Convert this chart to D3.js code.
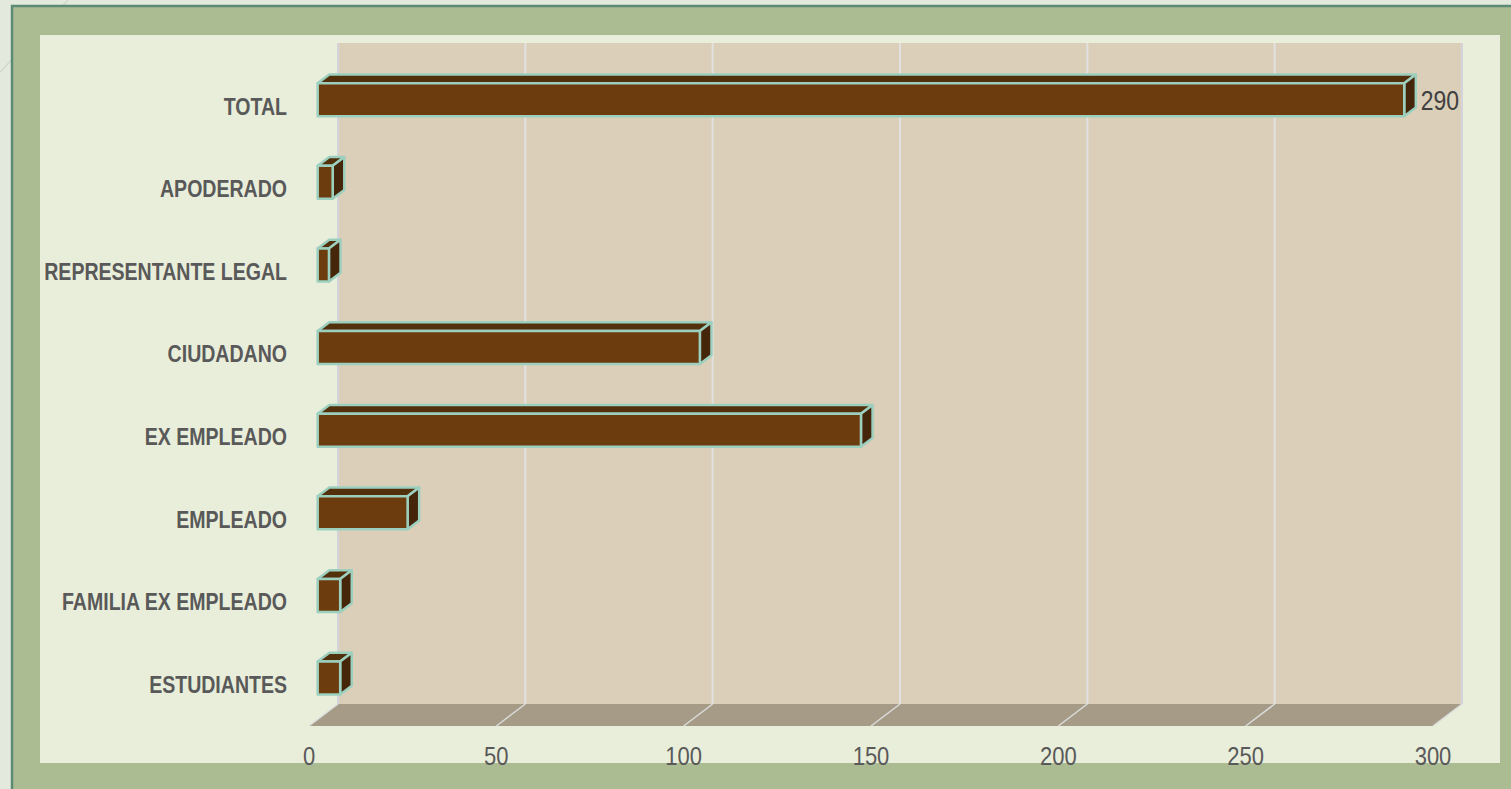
<!DOCTYPE html>
<html>
<head>
<meta charset="utf-8">
<script src="https://cdn.jsdelivr.net/npm/d3@7"></script>
<style>
  html, body { margin: 0; padding: 0; background: #e4e9de; overflow: hidden; }
  svg { display: block; }
</style>
</head>
<body>
<svg id="chart" width="1511" height="789"></svg>
<script>
// ---- data ----
const categories = ["TOTAL", "APODERADO", "REPRESENTANTE LEGAL", "CIUDADANO", "EX EMPLEADO", "EMPLEADO", "FAMILIA EX EMPLEADO", "ESTUDIANTES"];
const values = [290, 4, 3, 102, 145, 24, 6, 6];
const showLabel = [true, false, false, false, false, false, false, false];
const tickValues = [0, 50, 100, 150, 200, 250, 300];

// ---- layout ----
const svg = d3.select("#chart");
const W = 1511, H = 789;
const frontX0 = 309, frontTop = 65, frontBottom = 726;
const depthDX = 29, depthDY = -22;
const z0 = 0.3, z1 = 0.7;
const FONT = "'Liberation Sans', Arial, sans-serif";

const x = d3.scaleLinear().domain([0, 300]).range([0, 1124]);
const y = d3.scaleBand().domain(categories).range([frontTop, frontBottom]).paddingInner(0.6).paddingOuter(0.3);

function P(v, yy, z) { return [frontX0 + x(v) + z * depthDX, yy + z * depthDY]; }
const pts = a => a.map(p => p.join(",")).join(" ");

// background decorations
svg.append("line").attr("x1", 0).attr("y1", 72).attr("x2", 68).attr("y2", 0)
  .attr("stroke", "#cdd4c6").attr("stroke-width", 1.2);

// green frame
svg.append("rect").attr("x", 12).attr("y", 6).attr("width", W + 20).attr("height", H + 20)
  .attr("fill", "#abbb92").attr("stroke", "#5b8c73").attr("stroke-width", 2.5);
// inner panel
svg.append("rect").attr("x", 40).attr("y", 35).attr("width", 1460).attr("height", 728)
  .attr("fill", "#e9eedb");

// back wall
const wallTL = P(0, frontTop, 1), wallBR = P(300, frontBottom, 1);
svg.append("rect").attr("x", wallTL[0]).attr("y", wallTL[1])
  .attr("width", wallBR[0] - wallTL[0]).attr("height", wallBR[1] - wallTL[1])
  .attr("fill", "#dbcfb9");

// floor
svg.append("polygon")
  .attr("points", pts([P(0, frontBottom, 0), P(300, frontBottom, 0), P(300, frontBottom, 1), P(0, frontBottom, 1)]))
  .attr("fill", "#a59b87");

// gridlines (wall + floor)
const grid = svg.append("g");
tickValues.forEach(v => {
  const a = P(v, frontTop, 1), b = P(v, frontBottom, 1), c = P(v, frontBottom, 0);
  const col = (v === 0 || v === 300) ? "#d3d3dc" : "#e1e1e1";
  grid.append("line").attr("x1", a[0]).attr("y1", a[1]).attr("x2", b[0]).attr("y2", b[1])
    .attr("stroke", col).attr("stroke-width", 2);
  grid.append("line").attr("x1", b[0]).attr("y1", b[1]).attr("x2", c[0]).attr("y2", c[1])
    .attr("stroke", "#dcdcdc").attr("stroke-width", 1.5);
});

// bars
const bars = svg.append("g");
categories.forEach((cat, i) => {
  const v = values[i];
  const t = y(cat), b = y(cat) + y.bandwidth();
  const g = bars.append("g").attr("stroke", "#9ccfbe").attr("stroke-width", 2.5).attr("stroke-linejoin", "round");
  // top face
  g.append("polygon").attr("points", pts([P(0, t, z0), P(v, t, z0), P(v, t, z1), P(0, t, z1)]))
    .attr("fill", "#52300b");
  // right side
  g.append("polygon").attr("points", pts([P(v, t, z0), P(v, t, z1), P(v, b, z1), P(v, b, z0)]))
    .attr("fill", "#45260a");
  // front face
  g.append("polygon").attr("points", pts([P(0, t, z0), P(v, t, z0), P(v, b, z0), P(0, b, z0)]))
    .attr("fill", "#6c3b0e");
  if (showLabel[i]) {
    const p = P(v, (t + b) / 2, z1);
    svg.append("text")
      .attr("transform", `translate(${p[0] + 5},${(t + b) / 2 + z0 * depthDY}) scale(0.82,1)`)
      .attr("dy", "0.36em")
      .style("font-family", FONT)
      .style("font-size", "28px").attr("fill", "#404040").text(v);
  }
});

// category labels
svg.append("g").selectAll("text").data(categories).join("text")
  .attr("transform", d => `translate(287,${y(d) + y.bandwidth() / 2}) scale(0.85,1)`)
  .attr("dy", "0.36em").attr("text-anchor", "end")
  .style("font-family", FONT)
  .style("font-weight", "bold").style("font-size", "23px").attr("fill", "#595959")
  .text(d => d);

// value axis tick labels
svg.append("g").selectAll("text").data(tickValues).join("text")
  .attr("transform", d => `translate(${frontX0 + x(d)},756) scale(0.88,1)`)
  .attr("dy", "0.36em")
  .attr("text-anchor", "middle")
  .style("font-family", FONT)
  .style("font-size", "25px").attr("fill", "#595959")
  .text(d => d);
</script>
</body>
</html>
